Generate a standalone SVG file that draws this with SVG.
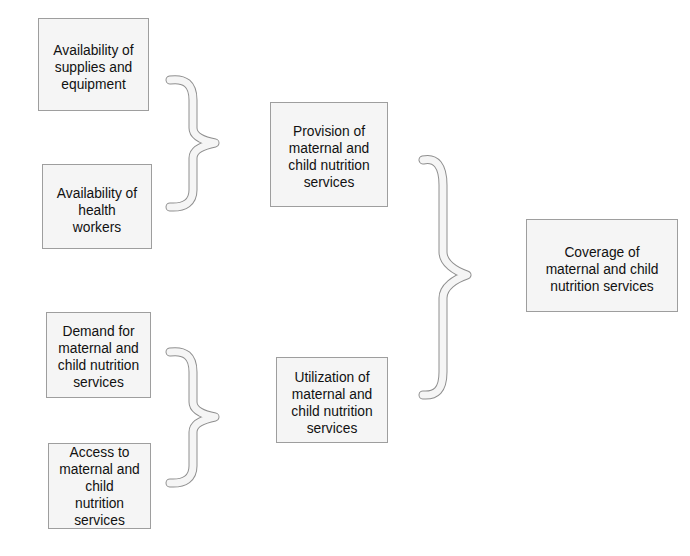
<svg xmlns="http://www.w3.org/2000/svg" width="690" height="556" viewBox="0 0 690 556">
<style>
.box{fill:#f5f5f5;stroke:#9e9e9e;stroke-width:1}
.t{font-family:"Liberation Sans",Arial,sans-serif;font-size:13.8px;fill:#111;text-anchor:middle}
.bo{fill:none;stroke:#8f8f8f;stroke-width:9;stroke-linecap:round;stroke-linejoin:round}
.bi{fill:none;stroke:#f5f5f5;stroke-width:7;stroke-linecap:round;stroke-linejoin:round}
</style>
<rect width="690" height="556" fill="#ffffff"/>
<g id="connectors">
<g id="brace1">
<path class="bo" d="M170,80 C185,78 193,84 193,100 L193,128 C193,137 205,141 215,143 C205,145 193,149 193,158 L193,190 C193,202 185,208 170,207"/>
<path class="bi" d="M170,80 C185,78 193,84 193,100 L193,128 C193,137 205,141 215,143 C205,145 193,149 193,158 L193,190 C193,202 185,208 170,207"/>
</g>
<g id="brace2">
<path class="bo" d="M170,352 C185,350 193,356 193,372 L193,402 C193,411 205,415 215,417 C205,419 193,423 193,432 L193,466 C193,478 185,484 170,483"/>
<path class="bi" d="M170,352 C185,350 193,356 193,372 L193,402 C193,411 205,415 215,417 C205,419 193,423 193,432 L193,466 C193,478 185,484 170,483"/>
</g>
<g id="brace3">
<path class="bo" d="M423,160 C436,157 443,166 443,185 L443,252 C443,263 455,271 467,275 C455,279 443,287 443,298 L443,372 C443,390 436,396 423,395"/>
<path class="bi" d="M423,160 C436,157 443,166 443,185 L443,252 C443,263 455,271 467,275 C455,279 443,287 443,298 L443,372 C443,390 436,396 423,395"/>
</g>
</g>
<g id="n1">
<rect class="box" x="38.5" y="18.5" width="110" height="92"/>
<text class="t"><tspan x="93.5" y="55">Availability of</tspan><tspan x="93.5" y="72">supplies and</tspan><tspan x="93.5" y="89">equipment</tspan></text>
</g>
<g id="n2">
<rect class="box" x="42.5" y="164.5" width="109" height="84"/>
<text class="t"><tspan x="97" y="198">Availability of</tspan><tspan x="97" y="215">health</tspan><tspan x="97" y="232">workers</tspan></text>
</g>
<g id="n3">
<rect class="box" x="46.5" y="312.5" width="104" height="85"/>
<text class="t"><tspan x="98.5" y="336">Demand for</tspan><tspan x="98.5" y="353">maternal and</tspan><tspan x="98.5" y="370">child nutrition</tspan><tspan x="98.5" y="387">services</tspan></text>
</g>
<g id="n4">
<rect class="box" x="48.5" y="443.5" width="102" height="85"/>
<text class="t"><tspan x="99.5" y="457">Access to</tspan><tspan x="99.5" y="474">maternal and</tspan><tspan x="99.5" y="491">child</tspan><tspan x="99.5" y="508">nutrition</tspan><tspan x="99.5" y="525">services</tspan></text>
</g>
<g id="n5">
<rect class="box" x="270.5" y="102.5" width="117" height="104"/>
<text class="t"><tspan x="329" y="136">Provision of</tspan><tspan x="329" y="153">maternal and</tspan><tspan x="329" y="170">child nutrition</tspan><tspan x="329" y="187">services</tspan></text>
</g>
<g id="n6">
<rect class="box" x="276.5" y="357.5" width="111" height="85"/>
<text class="t"><tspan x="332" y="382">Utilization of</tspan><tspan x="332" y="399">maternal and</tspan><tspan x="332" y="416">child nutrition</tspan><tspan x="332" y="433">services</tspan></text>
</g>
<g id="n7">
<rect class="box" x="526.5" y="219.5" width="151" height="92"/>
<text class="t"><tspan x="602" y="257">Coverage of</tspan><tspan x="602" y="274">maternal and child</tspan><tspan x="602" y="291">nutrition services</tspan></text>
</g>
</svg>
